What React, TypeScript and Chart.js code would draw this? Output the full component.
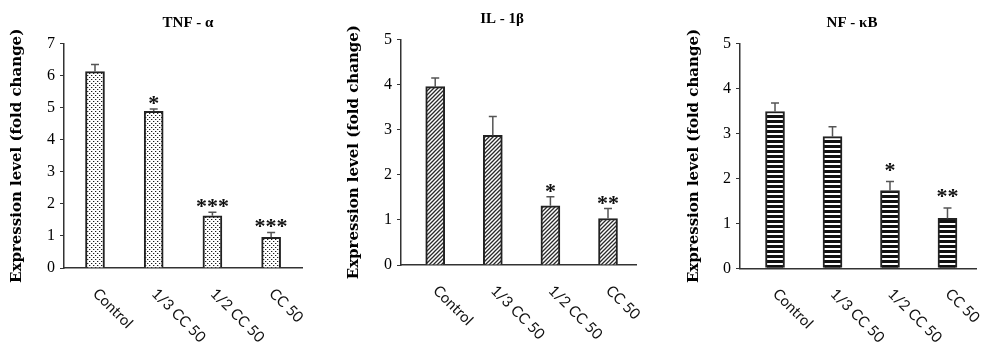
import { useEffect, useRef } from "react";
import { Chart, registerables } from "chart.js";

Chart.register(...registerables);

const categories = ["Control", "1/3 CC 50", "1/2 CC 50", "CC 50"];

const tnfValues = [6.13, 4.89, 1.63, 0.96];
const tnfErrors = [0.22, 0.07, 0.11, 0.15];
const tnfStars = ["", "*", "***", "***"];

const il1bValues = [3.95, 2.87, 1.31, 1.03];
const il1bErrors = [0.19, 0.42, 0.2, 0.22];
const il1bStars = ["", "", "*", "**"];

const nfkbValues = [3.49, 2.93, 1.73, 1.11];
const nfkbErrors = [0.19, 0.22, 0.2, 0.23];
const nfkbStars = ["", "", "*", "**"];

const yAxisTitle = "Expression level (fold change)";

type PatternKind = "dots" | "hatch" | "stripes";

type PanelCfg = {
  title: string;
  values: number[];
  errors: number[];
  stars: string[];
  yMax: number;
  pattern: PatternKind;
  left: number;
  width: number;
  yAxisWidth: number;
  yTitlePad: number;
  titleX: number;
  titleY: number;
  padTop: number;
  xAxisHeight: number;
  padRight: number;
  xMin: number;
  xMax: number;
  starGap: number;
};

const panels: PanelCfg[] = [
  {
    title: "TNF - α",
    values: tnfValues,
    errors: tnfErrors,
    stars: tnfStars,
    yMax: 7,
    pattern: "dots",
    left: 0,
    width: 330,
    yAxisWidth: 64,
    yTitlePad: 8,
    titleX: 188,
    titleY: 23,
    padTop: 43.7,
    xAxisHeight: 84,
    padRight: 28,
    xMin: -0.528,
    xMax: 3.526,
    starGap: 10,
  },
  {
    title: "IL - 1β",
    values: il1bValues,
    errors: il1bErrors,
    stars: il1bStars,
    yMax: 5,
    pattern: "hatch",
    left: 330,
    width: 330,
    yAxisWidth: 71,
    yTitlePad: 15,
    titleX: 172,
    titleY: 19,
    padTop: 39.3,
    xAxisHeight: 87,
    padRight: 24,
    xMin: -0.594,
    xMax: 3.486,
    starGap: 10,
  },
  {
    title: "NF - κB",
    values: nfkbValues,
    errors: nfkbErrors,
    stars: nfkbStars,
    yMax: 5,
    pattern: "stripes",
    left: 660,
    width: 340,
    yAxisWidth: 80,
    yTitlePad: 25,
    titleX: 192,
    titleY: 23.5,
    padTop: 43.7,
    xAxisHeight: 83.7,
    padRight: 24,
    xMin: -0.609,
    xMax: 3.496,
    starGap: 16,
  },
];

function makePattern(ctx: CanvasRenderingContext2D, kind: PatternKind): CanvasPattern | string {
  const tile = document.createElement("canvas");
  const t = tile.getContext("2d")!;
  if (kind === "dots") {
    tile.width = 4;
    tile.height = 4;
    t.fillStyle = "#ffffff";
    t.fillRect(0, 0, 4, 4);
    t.fillStyle = "#bdbdbd";
    t.fillRect(2, 1, 1, 1);
    t.fillRect(0, 3, 1, 1);
    t.fillStyle = "#1e1e1e";
    t.fillRect(1, 1, 1, 1);
    t.fillRect(3, 3, 1, 1);
  } else if (kind === "hatch") {
    tile.width = 4;
    tile.height = 4;
    t.fillStyle = "#ffffff";
    t.fillRect(0, 0, 4, 4);
    t.strokeStyle = "#2a2a2a";
    t.lineWidth = 1.3;
    t.beginPath();
    t.moveTo(-1, 5);
    t.lineTo(5, -1);
    t.moveTo(-3, 3);
    t.lineTo(3, -3);
    t.moveTo(1, 7);
    t.lineTo(7, 1);
    t.stroke();
  } else {
    tile.width = 4;
    tile.height = 5;
    t.fillStyle = "#ffffff";
    t.fillRect(0, 0, 4, 5);
    t.fillStyle = "#111111";
    t.fillRect(0, 0, 4, 3);
  }
  return ctx.createPattern(tile, "repeat") || "#888";
}

function PanelChart({ cfg }: { cfg: PanelCfg }) {
  const ref = useRef<HTMLCanvasElement | null>(null);
  useEffect(() => {
    const canvas = ref.current!;
    const ctx = canvas.getContext("2d")!;
    const pattern = makePattern(ctx, cfg.pattern);

    const overlay = {
      id: "overlay" + cfg.pattern,
      afterDatasetsDraw(chart: any) {
        const c: CanvasRenderingContext2D = chart.ctx;
        const xs = chart.scales.x;
        const ys = chart.scales.y;
        const area = chart.chartArea;
        c.save();
        // panel title
        c.fillStyle = "#000000";
        c.font = 'bold 15px "Liberation Serif"';
        c.textAlign = "center";
        c.textBaseline = "middle";
        c.fillText(cfg.title, cfg.titleX, cfg.titleY);
        // error bars
        c.strokeStyle = "#555555";
        c.lineWidth = 1.5;
        cfg.values.forEach((v, i) => {
          const x = xs.getPixelForValue(i);
          const y0 = ys.getPixelForValue(v);
          const y1 = ys.getPixelForValue(v + cfg.errors[i]);
          c.beginPath();
          c.moveTo(x, y0);
          c.lineTo(x, y1);
          c.moveTo(x - 4, y1);
          c.lineTo(x + 4, y1);
          c.stroke();
        });
        // significance stars
        c.fillStyle = "#111111";
        c.font = 'bold 22px "Liberation Serif"';
        c.textAlign = "center";
        c.textBaseline = "alphabetic";
        cfg.stars.forEach((s, i) => {
          if (!s) return;
          const x = xs.getPixelForValue(i);
          const y1 = ys.getPixelForValue(cfg.values[i] + cfg.errors[i]);
          c.fillText(s, x, y1 - cfg.starGap + 11);
        });
        // rotated category labels
        c.font = '15px "Lato"';
        c.fillStyle = "#111111";
        c.textAlign = "left";
        c.textBaseline = "middle";
        categories.forEach((lab, i) => {
          const x = xs.getPixelForValue(i);
          c.save();
          c.translate(x + 0.5, area.bottom + 23);
          c.rotate(Math.PI / 4);
          c.fillText(lab, 0, 0);
          c.restore();
        });
        c.restore();
      },
    };

    const chart = new Chart(canvas, {
      type: "bar",
      data: {
        datasets: [
          {
            data: cfg.values.map((v, i) => ({ x: i, y: v })),
            backgroundColor: pattern as any,
            borderColor: "#222222",
            borderWidth: 2,
            barThickness: 19,
          },
        ],
      },
      options: {
        animation: false,
        responsive: false,
        events: [],
        layout: { padding: { left: 0, right: cfg.padRight, top: cfg.padTop, bottom: 0 } },
        plugins: {
          legend: { display: false },
          tooltip: { enabled: false },
          title: { display: false },
        },
        scales: {
          x: {
            type: "linear",
            offset: false,
            min: cfg.xMin,
            max: cfg.xMax,
            ticks: { display: false },
            grid: { display: false },
            border: { display: true, color: "#333333", width: 1.5 },
            afterFit: (s: any) => {
              s.height = cfg.xAxisHeight;
            },
          },
          y: {
            min: 0,
            max: cfg.yMax,
            ticks: {
              stepSize: 1,
              padding: 5,
              color: "#000000",
              font: { family: '"Liberation Serif"', size: 16 },
            },
            grid: {
              drawOnChartArea: false,
              drawTicks: true,
              tickLength: 4,
              color: "#333333",
              lineWidth: 1,
            },
            border: { display: true, color: "#333333", width: 1.5 },
            title: {
              display: true,
              text: yAxisTitle,
              color: "#000000",
              font: { family: '"DejaVu Serif"', size: 15, weight: "bold" },
              padding: { top: cfg.yTitlePad, bottom: 0 },
            },
            afterFit: (s: any) => {
              s.width = cfg.yAxisWidth;
            },
          },
        },
      } as any,
      plugins: [overlay],
    });
    return () => chart.destroy();
  }, [cfg]);

  return (
    <div style={{ position: "absolute", left: cfg.left, top: 0, width: cfg.width, height: 352 }}>
      <canvas ref={ref} width={cfg.width} height={352} style={{ display: "block" }} />
    </div>
  );
}

export default function App() {
  return (
    <div
      style={{
        position: "absolute",
        left: 0,
        top: 0,
        width: 1000,
        height: 352,
        background: "#ffffff",
        overflow: "hidden",
      }}
    >
      {panels.map((p) => (
        <PanelChart key={p.title} cfg={p} />
      ))}
    </div>
  );
}
